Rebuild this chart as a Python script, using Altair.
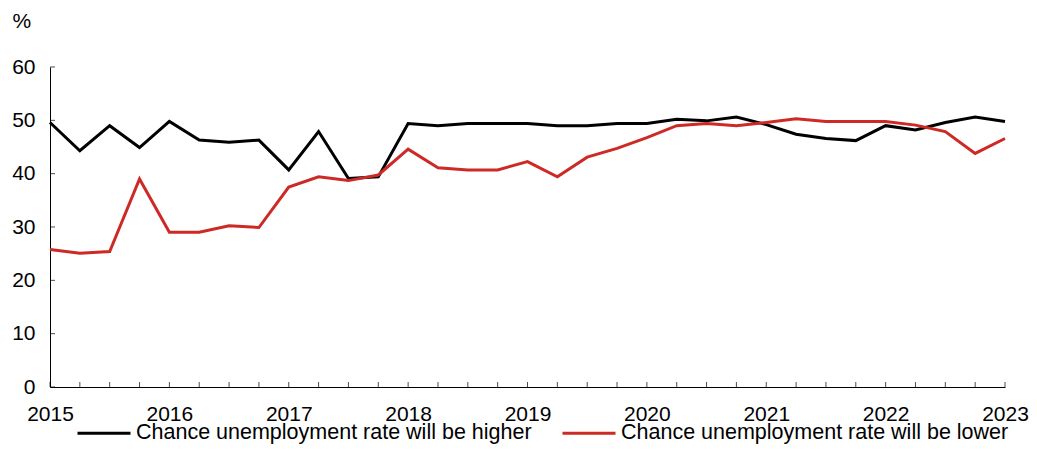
import altair as alt
import pandas as pd

quarters = [2015 + i * 0.25 for i in range(33)]
higher = [49.6, 44.3, 49.0, 44.9, 49.8, 46.3, 45.9, 46.3, 40.7, 47.9, 39.1, 39.4,
          49.4, 49.0, 49.4, 49.4, 49.4, 49.0, 49.0, 49.4, 49.4, 50.2, 49.9, 50.6,
          49.2, 47.4, 46.6, 46.2, 49.0, 48.2, 49.6, 50.6, 49.8]
lower = [25.8, 25.1, 25.4, 39.0, 29.0, 29.0, 30.25, 29.9, 37.5, 39.4, 38.7, 39.75,
         44.6, 41.1, 40.7, 40.7, 42.25, 39.4, 43.1, 44.75, 46.75, 49.0, 49.4, 49.0,
         49.6, 50.3, 49.8, 49.8, 49.8, 49.1, 47.9, 43.8, 46.6]
series_names = ["Chance unemployment rate will be higher",
                "Chance unemployment rate will be lower"]
colors = ["#000000", "#CD2A26"]
year_ticks = list(range(2015, 2024))
y_ticks = [0, 10, 20, 30, 40, 50, 60]

FONT = "Liberation Sans"

rows = []
for q, h, l in zip(quarters, higher, lower):
    rows.append({"date": q, "value": h, "series": series_names[0]})
    rows.append({"date": q, "value": l, "series": series_names[1]})
df = pd.DataFrame(rows)

xscale = alt.Scale(domain=[2015, 2023], nice=False, zero=False)
yscale = alt.Scale(domain=[0, 60], nice=False)

lines = alt.Chart(df).mark_line(strokeWidth=3, strokeJoin="miter").encode(
    x=alt.X("date:Q", scale=xscale,
            axis=alt.Axis(values=year_ticks, format="d", title=None, ticks=False,
                          grid=False, labelFontSize=21, labelFont=FONT,
                          labelColor="#000", labelPadding=16, domainColor="#000",
                          labelFlush=False, labelOverlap=False)),
    y=alt.Y("value:Q", scale=yscale,
            axis=alt.Axis(values=y_ticks, title="%", titleAngle=0, titleAlign="left",
                          titleBaseline="middle", titleX=-38, titleY=-46,
                          titleFontSize=21, titleFont=FONT, titleFontWeight="normal",
                          titleColor="#000", ticks=False, grid=False,
                          labelFontSize=21, labelFont=FONT, labelColor="#000",
                          labelPadding=15, domainColor="#000")),
    color=alt.Color("series:N",
                    scale=alt.Scale(domain=series_names, range=colors),
                    legend=alt.Legend(title=None, orient="none", direction="horizontal",
                                      legendX=26, legendY=338,
                                      symbolType="stroke", symbolSize=2809,
                                      symbolStrokeWidth=3, labelFontSize=21.5,
                                      labelFont=FONT, labelColor="#000",
                                      labelOffset=4, columnPadding=24,
                                      labelLimit=600)),
)

xt = pd.DataFrame({"date": quarters, "value": [0] * len(quarters)})
xticks = alt.Chart(xt).mark_tick(orient="vertical", size=5, thickness=1,
                                 color="#000", yOffset=-2.5).encode(
    x=alt.X("date:Q", scale=xscale), y=alt.Y("value:Q", scale=yscale))

yt = pd.DataFrame({"date": [2015] * len(y_ticks), "value": y_ticks})
yticks = alt.Chart(yt).mark_tick(orient="horizontal", size=5, thickness=1,
                                 color="#000", xOffset=2.5).encode(
    x=alt.X("date:Q", scale=xscale), y=alt.Y("value:Q", scale=yscale))

chart = alt.layer(lines, xticks, yticks).properties(
    width=955, height=320,
    autosize=alt.AutoSizeParams(type="none"),
    padding={"left": 42, "top": 59, "right": 24, "bottom": 57},
).configure(font=FONT).configure_view(stroke=None)

chart.save("out.html", embed_options={"renderer": "svg", "actions": False})
